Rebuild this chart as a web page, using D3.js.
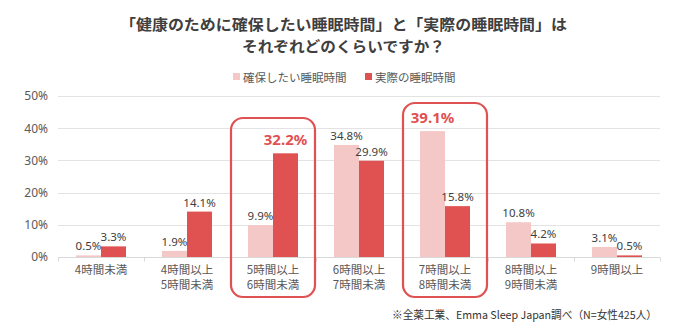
<!DOCTYPE html>
<html>
<head>
<meta charset="utf-8">
<script src="https://cdn.jsdelivr.net/npm/d3@7/dist/d3.min.js"></script>
<style>
  html, body { margin: 0; padding: 0; background: #fff; }
  svg { display: block; font-family: "Noto Sans CJK JP", "Noto Sans", sans-serif; }
</style>
</head>
<body>
<svg id="chart" width="689" height="334"></svg>
<script>
// Sleep-duration categories (two-line axis labels)
const categories = [
  ["4時間未満"],
  ["4時間以上", "5時間未満"],
  ["5時間以上", "6時間未満"],
  ["6時間以上", "7時間未満"],
  ["7時間以上", "8時間未満"],
  ["8時間以上", "9時間未満"],
  ["9時間以上"]
];
const seriesNames = ["確保したい睡眠時間", "実際の睡眠時間"];
const desired = [0.5, 1.9, 9.9, 34.8, 39.1, 10.8, 3.1];
const actual  = [3.3, 14.1, 32.2, 29.9, 15.8, 4.2, 0.5];
const yTicks = [0, 10, 20, 30, 40, 50];
// Emphasised values: [category index, series index]
const highlights = [[2, 1], [4, 0]];
const titleLines = ["「健康のために確保したい睡眠時間」と「実際の睡眠時間」は", "それぞれどのくらいですか？"];
const footnote = "※全薬工業、Emma Sleep Japan調べ（N=女性425人）";

const colors = ["#f5c8c8", "#e05252"];
const textGray = "#595959";
const accent = "#e05252";

const svg = d3.select("#chart");
const margin = { left: 58, right: 29, top: 96, bottom: 77 };
const W = 689, H = 334;

const x = d3.scaleBand()
  .domain(d3.range(categories.length))
  .range([margin.left, W - margin.right])
  .paddingInner(0).paddingOuter(0);
const barW = 25;
const x1 = d3.scaleBand().domain([0, 1]).range([-barW, barW]);

const y = d3.scaleLinear().domain([0, 50]).range([H - margin.bottom, margin.top]);

// Title
svg.append("g").selectAll("text").data(titleLines).join("text")
  .attr("x", 343.5)
  .attr("y", (d, i) => 29.5 + i * 22)
  .attr("text-anchor", "middle")
  .attr("font-size", 15)
  .attr("font-weight", "bold")
  .attr("fill", "#3f3f3f")
  .text(d => d)
  .each(function (d, i) {
    const target = i === 0 ? 447 : 203;
    d3.select(this).attr("textLength", target).attr("lengthAdjust", "spacingAndGlyphs");
  });

// Legend
const legendX = [233, 365];
const legend = svg.append("g").selectAll("g").data(seriesNames).join("g")
  .attr("transform", (d, i) => `translate(${legendX[i]},77)`);
legend.append("rect").attr("x", 0).attr("y", -4).attr("width", 7).attr("height", 7)
  .attr("fill", (d, i) => colors[i]);
legend.append("text").attr("x", 10).attr("y", 4.5)
  .attr("font-size", 11.5).attr("fill", textGray).text(d => d);

// Gridlines
svg.append("g").selectAll("line").data(yTicks.filter(t => t > 0)).join("line")
  .attr("x1", margin.left).attr("x2", W - margin.right)
  .attr("y1", d => Math.round(y(d)) + 0.5).attr("y2", d => Math.round(y(d)) + 0.5)
  .attr("stroke", "#e3e3e3").attr("stroke-width", 1);

// Y axis labels
const yAxis = d3.axisLeft(y).tickValues(yTicks).tickFormat(d => d + "%").tickSize(0).tickPadding(10);
const yg = svg.append("g").attr("transform", `translate(${margin.left},0)`).call(yAxis);
yg.select(".domain").remove();
yg.selectAll("text").attr("font-size", 12).attr("fill", textGray)
  .attr("font-family", "'Noto Sans', sans-serif");

// Bars
const data = categories.map((c, i) => ({ i, values: [desired[i], actual[i]] }));
const groups = svg.append("g").selectAll("g").data(data).join("g")
  .attr("transform", d => `translate(${x(d.i) + x.bandwidth() / 2},0)`);
groups.selectAll("rect").data(d => d.values.map((v, s) => ({ v, s, i: d.i }))).join("rect")
  .attr("x", d => x1(d.s))
  .attr("width", x1.bandwidth())
  .attr("y", d => y(d.v))
  .attr("height", d => y(0) - y(d.v))
  .attr("fill", d => colors[d.s]);

// Value labels
const isHi = d => highlights.some(h => h[0] === d.i && h[1] === d.s);
groups.selectAll("text.val").data(d => d.values.map((v, s) => ({ v, s, i: d.i }))).join("text")
  .attr("class", "val")
  .attr("x", d => x1(d.s) + x1.bandwidth() / 2)
  .attr("y", d => y(d.v) - (isHi(d) ? 8 : 5))
  .attr("text-anchor", "middle")
  .attr("font-family", "'Noto Sans', sans-serif")
  .attr("font-size", d => isHi(d) ? 15 : 11.5)
  .attr("font-weight", d => isHi(d) ? "bold" : "normal")
  .attr("fill", d => isHi(d) ? accent : "#404040")
  .text(d => d.v.toFixed(1) + "%");

// Baseline with category separators
const base = Math.round(y(0)) + 0.5;
svg.append("line").attr("x1", margin.left).attr("x2", W - margin.right)
  .attr("y1", base).attr("y2", base).attr("stroke", "#d9d9d9");
svg.append("g").selectAll("line").data(d3.range(categories.length + 1)).join("line")
  .attr("x1", i => Math.round(margin.left + i * x.step()) + 0.5)
  .attr("x2", i => Math.round(margin.left + i * x.step()) + 0.5)
  .attr("y1", base).attr("y2", base + 4).attr("stroke", "#d9d9d9");

// Category labels
const catG = svg.append("g").selectAll("text").data(categories).join("text")
  .attr("x", (d, i) => x(i) + x.bandwidth() / 2)
  .attr("y", 274)
  .attr("text-anchor", "middle")
  .attr("font-size", 11.5)
  .attr("fill", textGray);
catG.selectAll("tspan").data(d => d).join("tspan")
  .attr("x", function () { return d3.select(this.parentNode).attr("x"); })
  .attr("dy", (d, j) => j === 0 ? 0 : 15)
  .text(d => d);

// Rounded frames around emphasised categories
const frameTop = [118, 103];
const frameBottom = 297;
svg.append("g").selectAll("rect").data(highlights).join("rect")
  .attr("x", h => x(h[0]) + x.bandwidth() / 2 - 42)
  .attr("width", 84)
  .attr("y", (h, k) => frameTop[k])
  .attr("height", (h, k) => frameBottom - frameTop[k])
  .attr("rx", 12).attr("ry", 12)
  .attr("fill", "none")
  .attr("stroke", accent)
  .attr("stroke-width", 2.2);

// Source note
svg.append("text")
  .attr("x", 392).attr("y", 319)
  .attr("font-size", 11)
  .attr("fill", "#333")
  .text(footnote)
  .attr("textLength", 265).attr("lengthAdjust", "spacingAndGlyphs");
</script>
</body>
</html>
